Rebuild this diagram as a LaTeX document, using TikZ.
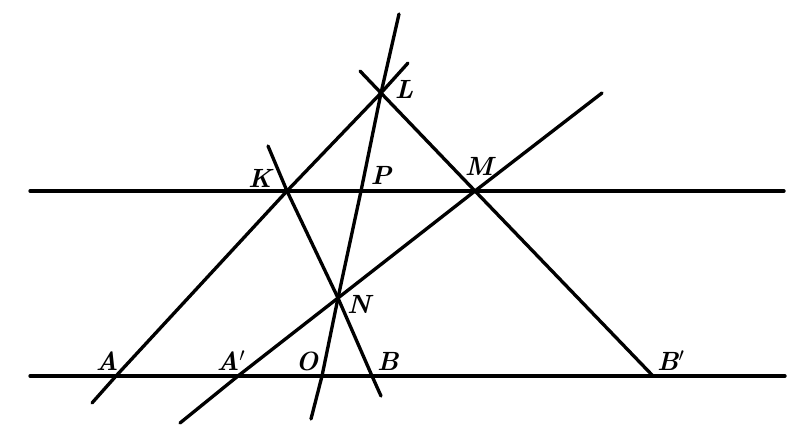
\documentclass[tikz,border=0pt]{standalone}
\begin{document}
\begin{tikzpicture}[x=0.02cm,y=-0.02cm,
  ln/.style={line width=1.9pt,line cap=round},
  lab/.style={font=\fontsize{15}{17}\selectfont\bfseries\itshape,inner sep=0pt}]
\useasboundingbox (0,0) rectangle (800,425);
% points
\coordinate (T1) at (30,191);
\coordinate (T2) at (784,191);
\coordinate (B1) at (30,376);
\coordinate (B2) at (785,376);
\coordinate (L) at (381,93);
\coordinate (K) at (287,191);
\coordinate (P) at (361,191);
\coordinate (M) at (475,191);
\coordinate (N) at (338,298);
\coordinate (A) at (116,376);
\coordinate (A') at (238,376);
\coordinate (O) at (322,376);
\coordinate (B) at (372,376);
\coordinate (B') at (653,376);
% free ends
\coordinate (eA) at (92,403);
\coordinate (eL1) at (408,63);
\coordinate (eL2) at (360,71);
\coordinate (eO1) at (399,14);
\coordinate (eO2) at (311,419);
\coordinate (eK) at (268,146);
\coordinate (eB) at (381,396);
\coordinate (eA2) at (180,423);
\coordinate (eM) at (602,93);
% lines
\draw[ln] (T1) -- (K) -- (P) -- (M) -- (T2);
\draw[ln] (B1) -- (A) -- (A') -- (O) -- (B) -- (B') -- (B2);
\draw[ln] (eA) -- (A) -- (K) -- (L) -- (eL1);
\draw[ln] (eL2) -- (L) -- (M) -- (B');
\draw[ln] (eO1) -- (L) -- (P) -- (N) -- (O) -- (eO2);
\draw[ln] (eK) -- (K) -- (N) -- (B) -- (eB);
\draw[ln] (eA2) -- (A') -- (N) -- (M) -- (eM);
% labels
\node[lab] (lL) at (404,89) {L};
\node[lab] (lK) at (260,178) {K};
\node[lab] (lP) at (381,175) {P};
\node[lab] (lM) at (479,166) {M};
\node[lab] (lN) at (359,304) {N};
\node[lab] (lA) at (107,361) {A};
\node[lab] (lA') at (231,361) {A$'$};
\node[lab] (lO) at (307,361) {O};
\node[lab] (lB) at (388,361) {B};
\node[lab] (lB') at (671,361) {B$'$};
\end{tikzpicture}
\end{document}
